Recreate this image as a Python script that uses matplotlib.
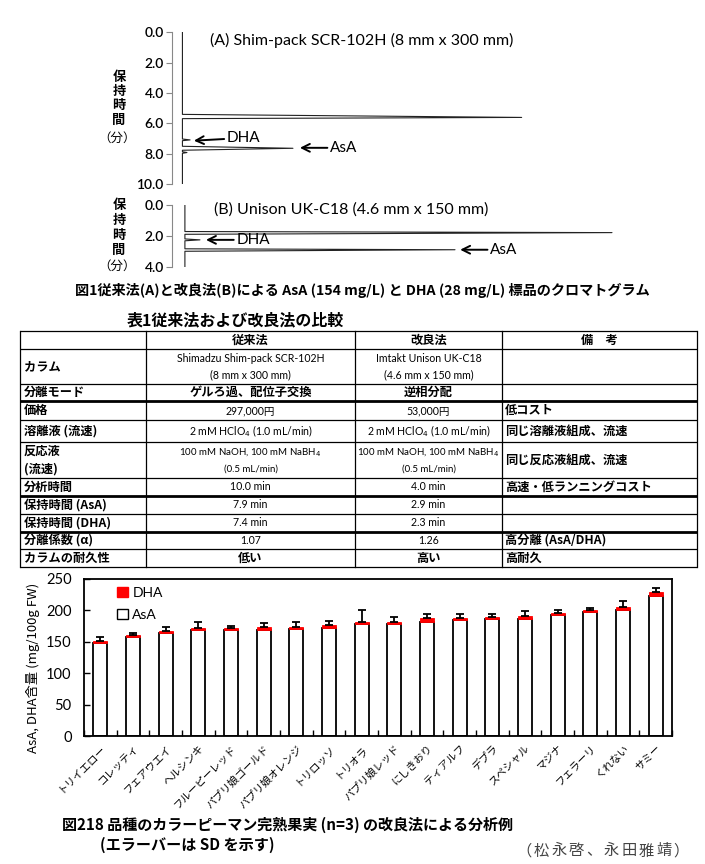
import matplotlib
matplotlib.use('Agg')
import matplotlib.pyplot as plt
from matplotlib.patches import Patch
import numpy as np

plt.rcParams['font.family'] = ['Noto Sans CJK JP', 'DejaVu Sans']
CJK = ['Noto Sans CJK JP', 'DejaVu Sans']
LAT = ['Lato', 'Noto Sans CJK JP', 'DejaVu Sans']

# ---------------- data ----------------
# Chromatogram (A): retention time (min) vs detector signal (arbitrary units)
time_A = [0.0, 5.40, 5.60, 5.68, 7.02, 7.08, 7.13, 7.50, 7.63, 7.76, 7.86, 7.91, 7.96, 10.0]
sig_A = [0.0, 0.0, 97.6, 0.0, 0.0, 2.2, 0.0, 0.0, 31.8, 0.0, 0.0, 1.3, 0.0, 0.0]
# Chromatogram (B)
time_B = [0.0, 1.72, 1.79, 1.90, 2.20, 2.26, 2.32, 2.84, 2.90, 3.00, 4.0]
sig_B = [0.0, 0.0, 99.3, 0.0, 0.0, 3.5, 0.0, 0.0, 62.8, 0.0, 0.0]
yticks_A = [0, 2, 4, 6, 8, 10]
yticks_B = [0, 2, 4]

# Table 1
table_header = ['', '従来法', '改良法', '備　考']
table_rows = [
    ['カラム', 'Shimadzu Shim-pack SCR-102H\n(8 mm x 300 mm)', 'Imtakt Unison UK-C18\n(4.6 mm x 150 mm)', ''],
    ['分離モード', 'ゲルろ過、配位子交換', '逆相分配', ''],
    ['価格', '297,000円', '53,000円', '低コスト'],
    ['溶離液 (流速)', '2 mM HClO$_4$ (1.0 mL/min)', '2 mM HClO$_4$ (1.0 mL/min)', '同じ溶離液組成、流速'],
    ['反応液\n(流速)', '100 mM NaOH, 100 mM NaBH$_4$\n(0.5 mL/min)', '100 mM NaOH, 100 mM NaBH$_4$\n(0.5 mL/min)', '同じ反応液組成、流速'],
    ['分析時間', '10.0 min', '4.0 min', '高速・低ランニングコスト'],
    ['保持時間 (AsA)', '7.9 min', '2.9 min', ''],
    ['保持時間 (DHA)', '7.4 min', '2.3 min', ''],
    ['分離係数 (α)', '1.07', '1.26', '高分離 (AsA/DHA)'],
    ['カラムの耐久性', '低い', '高い', '高耐久'],
]

# Figure 2: 18 cultivars
cultivars = ['トリイエロー', 'コレッティ', 'フェアウエイ', 'ヘルシンキ', 'フルーピーレッド',
             'パプリ娘ゴールド', 'パプリ娘オレンジ', 'トリロッソ', 'トリオラ', 'パプリ娘レッド',
             'にしきおり', 'ティアルフ', 'デプラ', 'スペシャル', 'マジナ', 'フェラーリ',
             'くれない', 'サミー']
asa = [148, 158, 164, 168, 169, 168, 171, 172, 178, 178, 182, 185, 186, 186, 192, 198, 200, 223]
dha = [4, 3, 3, 4, 3, 6, 3, 5, 3, 3, 6, 3, 3, 5, 4, 3, 5, 6]
sd = [5, 3, 7, 9, 3, 6, 7, 6, 20, 9, 6, 7, 6, 8, 4, 3, 10, 6]
yticks_bar = [0, 50, 100, 150, 200, 250]

# ---------------- figure ----------------
W, H = 705, 864
fig = plt.figure(figsize=(W / 100, H / 100), dpi=100)


def rect(x0, y0, x1, y1):
    return [x0 / W, 1 - y1 / H, (x1 - x0) / W, (y1 - y0) / H]


# overlay for captions / table
ov = fig.add_axes([0, 0, 1, 1])
ov.set_xlim(0, W)
ov.set_ylim(H, 0)
ov.axis('off')


def chrom(ax, t, s, ymax, ticks):
    ax.plot(s, t, color='#222222', lw=0.8)
    ax.set_xlim(-3, 100)
    ax.set_ylim(ymax, 0)
    for sp in ['top', 'right', 'bottom']:
        ax.spines[sp].set_visible(False)
    ax.spines['left'].set_color('#888888')
    ax.spines['left'].set_linewidth(0.8)
    ax.set_xticks([])
    ax.set_yticks(ticks)
    ax.set_yticklabels(['%.1f' % v for v in ticks], family=LAT, fontsize=10, weight='semibold')
    ax.tick_params(axis='y', direction='out', length=4, width=0.8, color='#888888', pad=2)
    ax.patch.set_alpha(0)


def arrow(ax, label, tip, start):
    ax.annotate(label, xy=tip, xytext=start, family=LAT, fontsize=11, va='center', ha='left',
                arrowprops=dict(arrowstyle='->', lw=1.4, color='black', shrinkA=0, shrinkB=0,
                                mutation_scale=14))


axA = fig.add_axes(rect(172, 32.3, 530, 184.3))
chrom(axA, time_A, sig_A, 10, yticks_A)
axA.text(0.105, 0.945, '(A) Shim-pack SCR-102H (8 mm x 300 mm)', transform=axA.transAxes,
         family=LAT, fontsize=11.5, va='center', ha='left')
arrow(axA, 'DHA', (3.3, 7.13), (12.8, 6.95))
arrow(axA, 'AsA', (33.8, 7.6), (42.5, 7.6))

axB = fig.add_axes(rect(172, 205, 615, 266.7))
chrom(axB, time_B, sig_B, 4, yticks_B)
axB.text(0.094, 0.93, '(B) Unison UK-C18 (4.6 mm x 150 mm)', transform=axB.transAxes,
         family=LAT, fontsize=11.5, va='center', ha='left')
arrow(axB, 'DHA', (4.9, 2.26), (12.0, 2.26))
arrow(axB, 'AsA', (64.0, 2.9), (71.0, 2.9))

# vertical y labels
for chars, x0, y0, step in [('保持時間', 119, 77, 14.2), ('保持時間', 119, 205, 15.0)]:
    for i, ch in enumerate(chars):
        ov.text(x0, y0 + i * step, ch, fontsize=9.5, weight='bold', ha='center', va='center')
ov.text(117, 138, '（分）', fontsize=9, ha='center', va='center')
ov.text(117, 266, '（分）', fontsize=9, ha='center', va='center')

# captions
ov.text(75, 290, '図1従来法(A)と改良法(B)による AsA (154 mg/L) と DHA (28 mg/L) 標品のクロマトグラム',
        fontsize=10.2, weight='bold', ha='left', va='center')
ov.text(127, 320, '表1従来法および改良法の比較', fontsize=11.5, weight='bold', ha='left', va='center')

# ---------------- table ----------------
col_x = [20, 146, 355, 502, 697]
row_y = [331, 349, 384, 401, 420, 442, 478, 496, 514, 532, 549, 567]
thick = {401, 496, 532}
for y in row_y:
    ov.plot([col_x[0], col_x[-1]], [y, y], color='black', lw=2.0 if y in thick else 0.9,
            solid_capstyle='butt')
for x in col_x:
    ov.plot([x, x], [row_y[0], row_y[-1]], color='black', lw=0.9)


def is_pure_cjk(s):
    return not any(ch.isdigit() or ('A' <= ch <= 'z') for ch in s)


rows_all = [table_header] + table_rows
for r, row in enumerate(rows_all):
    yc = (row_y[r] + row_y[r + 1]) / 2
    for c, txt in enumerate(row):
        if not txt:
            continue
        if c == 0:
            ov.text(col_x[0] + 4, yc, txt, fontsize=8.8, weight='bold', ha='left', va='center',
                    linespacing=1.45)
        elif c == 3 and r > 0:
            ov.text(col_x[3] + 3, yc, txt, fontsize=8.8, weight='bold', ha='left', va='center')
        else:
            xc = (col_x[c] + col_x[c + 1]) / 2
            if is_pure_cjk(txt):
                ov.text(xc, yc, txt, fontsize=8.8, weight='bold', ha='center', va='center')
            else:
                fs = 7.0 if 'NaBH' in txt else 7.6
                ov.text(xc, yc, txt, fontsize=fs, family=LAT, ha='center', va='center',
                        linespacing=1.75 if 'NaBH' in txt else 1.65)

# ---------------- bar chart ----------------
axC = fig.add_axes(rect(84, 579, 672, 736))
x = np.arange(len(cultivars))
total = np.array(asa) + np.array(dha)
axC.bar(x, asa, width=0.42, color='white', edgecolor='black', lw=1.3, zorder=2)
axC.bar(x, dha, bottom=asa, width=0.42, color='red', edgecolor='red', lw=0.6, zorder=3)
axC.errorbar(x, total, yerr=[np.zeros(len(sd)), sd], fmt='none', ecolor='black',
             elinewidth=1.3, capsize=3, capthick=1.3, zorder=4)
axC.set_xlim(-0.5, len(cultivars) - 0.5)
axC.set_ylim(0, 250)
axC.set_yticks(yticks_bar)
axC.set_yticklabels([str(v) for v in yticks_bar], family=LAT, fontsize=10.5)
axC.tick_params(axis='y', direction='in', length=4, width=1.0, pad=9)
axC.set_xticks(x)
axC.set_xticklabels(cultivars, rotation=45, ha='right', rotation_mode='anchor', fontsize=7.6)
axC.tick_params(axis='x', which='major', length=0, pad=5)
axC.set_xticks(np.arange(-0.5, len(cultivars), 1.0), minor=True)
axC.tick_params(axis='x', which='minor', direction='in', length=4, width=1.0)
for sp in axC.spines.values():
    sp.set_linewidth(1.3)
axC.legend(handles=[Patch(facecolor='red', edgecolor='red', label='DHA'),
                    Patch(facecolor='white', edgecolor='black', label='AsA')],
           loc='upper left', bbox_to_anchor=(0.035, 1.03), frameon=False,
           handlelength=0.8, handleheight=0.8, handletextpad=0.3, labelspacing=0.7,
           prop={'family': LAT, 'size': 10})
fig.text(33 / W, 1 - 668 / H, 'AsA, DHA含量 (mg/100g FW)', rotation=90, ha='center', va='center',
         fontsize=9.5)

ov.text(62, 825, '図218 品種のカラーピーマン完熟果実 (n=3) の改良法による分析例',
        fontsize=10.85, weight='bold', ha='left', va='center')
ov.text(100, 845, '(エラーバーは SD を示す)', fontsize=10.9, weight='bold', ha='left', va='center')
credit = '（松永啓、永田雅靖）'
for i, ch in enumerate(credit):
    ov.text(515 + (i + 0.5) * 17.5, 851, ch, fontsize=11, color='#444444', ha='center', va='center')

fig.savefig('out.png', dpi=100)
